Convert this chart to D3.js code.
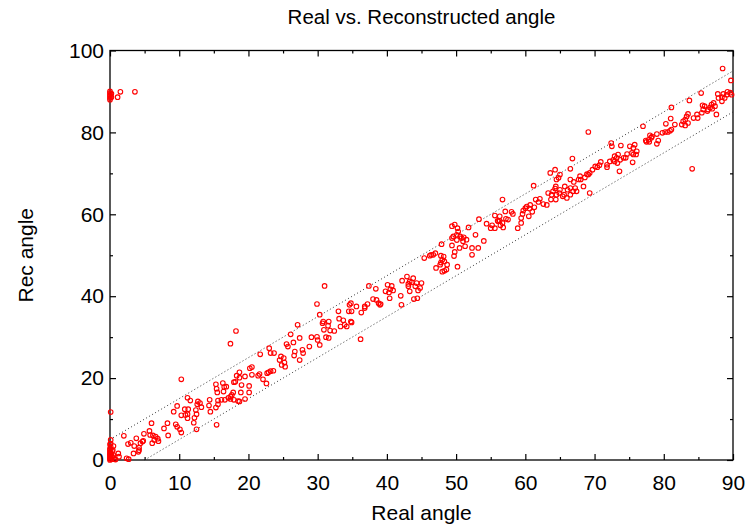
<!DOCTYPE html>
<html><head><meta charset="utf-8">
<script src="https://cdn.jsdelivr.net/npm/d3@7"></script>
<style>
body{margin:0;background:#fff}
svg{display:block}
text{font-family:"Liberation Sans",Arial,Helvetica,sans-serif;fill:#000}
</style>
</head><body>
<svg id="chart" width="752" height="527"></svg>
<script>
// ---------------- data ----------------
const title = "Real vs. Reconstructed angle";
const xLabel = "Real angle";
const yLabel = "Rec angle";
const xTicks = [0,10,20,30,40,50,60,70,80,90];
const xMinorTicks = [5,15,25,35,45,55,65,75,85];
const yTicks = [0,20,40,60,80,100];
const yMinorTicks = [10,30,50,70,90];
const guideOffsets = [5,-5];   // dotted guide lines: rec = real ± 5

const points = [
// top-left cluster
[0,90],[0,89.6],[0,89.2],[0,88.8],[0,88.4],[0,88.0],[0.2,89.5],[0.2,88.6],[1.1,88.6],[1.5,89.9],[3.6,89.9],
// origin cluster
[0,0],[0,0.3],[0,0.6],[0,1],[0,1.3],[0,1.6],[0,2],[0,2.4],[0,2.8],[0.2,0.2],[0.3,0.8],[0.2,1.5],[0.4,0.5],[0.1,3.2],[0,3.8],[0.6,0.2],[0.8,0.1],[0.3,2.2],[0.5,1.2],[0.1,4.0],[0.1,11.7],[0.1,4.9],
// 0-15
[10.3,19.7],[11.2,15.2],[11.6,14.5],[12.7,14.3],[13.0,13.9],[12.6,13.6],[14.4,14.7],[14.3,13.3],[9.7,13.2],[9.2,11.8],[10.8,12.4],[11.3,12.4],[11.2,11.2],[10.9,11.0],[12.4,12.2],[12.5,11.2],[13.2,12.9],[10.3,10.9],[11.2,10.2],[12.2,10.3],[14.5,11.8],[6.0,9.0],[8.3,9.0],[7.8,7.7],[9.5,8.7],[9.7,8.1],[10.1,7.5],[10.3,6.7],[12.1,9.1],[12.5,7.5],[4.9,6.4],[5.7,7.1],[5.8,6.1],[6.2,6.0],[6.4,4.9],[6.6,5.7],[6.9,5.2],[7.0,4.6],[8.4,6.0],[3.8,5.3],[4.4,4.1],[4.7,4.5],[4.8,4.7],[6.1,4.1],[2.0,5.9],[2.6,3.9],[3.0,4.2],[3.5,3.4],[4.2,3.0],[4.2,2.4],[4.1,2.0],[3.4,1.6],[0.5,3.4],[0.4,2.4],[1.2,1.6],[1.3,0.8],[2.4,0.4],[2.7,0.2],[15.4,8.6],
// 15-29
[27.1,33.0],[18.2,31.5],[17.4,28.4],[26.1,30.7],[27.4,29.8],[25.5,28.3],[25.7,27.7],[26.5,28.7],[27.8,26.9],[27.9,26.1],[26.7,26.5],[26.6,25.5],[28.8,27.7],[27.4,24.4],[23.0,27.3],[23.2,26.1],[23.7,26.1],[21.7,25.8],[24.7,25.3],[24.5,24.4],[25.1,24.9],[25.2,23.8],[24.8,23.2],[25.3,22.8],[23.6,21.8],[22.7,21.2],[22.9,21.4],[23.2,21.7],[21.6,21.0],[21.4,20.6],[22.1,19.7],[22.6,18.7],[20.5,22.7],[20.2,22.4],[20.5,20.8],[19.5,20.4],[18.7,21.4],[18.3,20.6],[18.7,20.1],[18.1,19.1],[17.9,19.0],[19.0,18.3],[20.1,18.1],[18.9,16.5],[20.1,16.5],[17.8,16.5],[17.6,15.9],[17.4,15.5],[17.1,15.2],[17.4,14.9],[18.5,14.4],[17.9,14.7],[18.7,14.3],[19.5,14.9],[15.3,18.5],[15.4,17.4],[15.5,16.5],[16.3,18.8],[16.5,17.8],[16.8,17.9],[16.4,16.7],[16.1,14.7],[16.6,14.7],[15.6,14.5],[15.6,13.6],[15.3,12.8],
// 29-45
[45.4,49.3],[31.0,42.5],[37.4,42.5],[38.4,41.8],[40.1,42.8],[40.7,42.5],[40.5,41.7],[40.9,41.4],[40.3,40.9],[39.8,41.2],[40.4,39.5],[42.2,43.8],[42.9,44.8],[43.3,43.6],[43.1,43.0],[43.6,43.4],[43.8,44.4],[43.1,42.4],[43.3,41.2],[44.3,43.2],[45.0,43.2],[44.8,42.0],[44.1,42.4],[44.5,41.4],[43.9,39.3],[44.4,39.5],[42.0,40.1],[42.1,37.9],[38.5,39.1],[38.8,38.3],[39.0,37.9],[39.1,38.1],[38.0,39.3],[37.2,38.1],[36.8,37.5],[36.8,37.1],[36.3,36.0],[34.8,38.3],[34.6,37.9],[34.5,36.3],[34.9,36.3],[35.6,37.5],[33.0,36.3],[33.1,34.5],[33.7,34.1],[33.9,33.0],[33.3,32.6],[34.2,32.6],[34.8,33.8],[34.9,33.6],[31.6,33.8],[31.5,32.8],[30.8,33.8],[30.7,33.4],[30.9,31.8],[31.8,31.6],[32.4,31.5],[30.3,35.5],[29.9,38.1],[31.2,30.0],[31.6,29.8],[30.0,29.3],[29.9,30.1],[29.1,30.0],[30.3,28.1],[36.2,29.5],
// 45-59
[56.7,63.6],[57.1,60.7],[58.0,60.6],[58.2,60.1],[55.6,59.7],[56.3,59.5],[56.0,58.4],[56.3,58.4],[57.2,58.9],[57.5,58.7],[55.2,57.3],[55.0,56.6],[55.6,56.6],[56.4,57.3],[56.7,57.9],[56.8,56.8],[56.1,58.3],[54.4,57.7],[53.3,58.8],[51.8,56.8],[52.8,55.0],[54.0,53.5],[58.9,56.6],[49.4,57.1],[49.8,57.5],[50.2,56.6],[50.3,55.8],[50.1,55.0],[49.6,54.6],[49.4,54.2],[50.6,54.6],[50.8,54.2],[51.1,54.4],[51.5,53.8],[51.0,53.4],[50.1,53.7],[49.4,52.4],[50.5,51.8],[51.3,52.2],[52.3,51.8],[53.2,51.8],[49.8,50.8],[49.7,49.8],[52.3,50.1],[50.2,47.2],[47.9,52.7],[46.4,50.1],[47.0,50.5],[46.7,50.1],[46.2,49.9],[47.8,49.9],[48.2,49.7],[48.0,48.9],[48.3,48.5],[47.8,48.2],[47.7,47.7],[48.7,47.7],[48.6,46.5],[47.1,46.9],[48.0,46.0],[48.3,46.2],
// 59-76
[69.1,80.1],[72.4,77.4],[72.5,76.6],[73.8,76.8],[75.1,76.6],[75.6,76.2],[75.4,75.0],[74.7,74.7],[75.6,74.6],[72.9,74.2],[73.2,73.8],[73.4,74.6],[72.7,73.3],[72.9,72.9],[73.7,73.3],[73.3,72.5],[72.2,72.9],[71.8,72.1],[71.8,71.5],[73.6,70.5],[74.2,73.8],[74.5,73.8],[70.9,72.8],[70.7,72.0],[70.4,71.5],[70.1,71.7],[69.7,70.9],[69.3,70.1],[69.1,69.7],[68.9,69.8],[68.6,69.0],[67.9,69.3],[67.7,68.5],[68.0,68.5],[68.4,66.8],[67.2,66.4],[67.4,65.6],[66.9,65.6],[66.5,66.4],[67.0,67.9],[66.5,68.5],[66.8,73.6],[66.5,71.1],[63.6,70.1],[64.3,70.9],[65.0,69.7],[64.8,68.9],[64.5,68.5],[64.4,66.8],[64.3,66.3],[64.0,65.6],[63.8,64.8],[63.3,65.2],[64.5,64.8],[64.9,65.2],[65.0,66.0],[65.7,66.8],[66.1,66.0],[65.6,64.8],[66.5,64.8],[66.0,64.0],[65.4,64.4],[61.2,67.0],[69.3,65.2],[62.1,63.8],[61.5,63.6],[61.9,63.0],[62.6,62.5],[63.1,62.3],[63.7,63.6],[64.4,63.6],[60.7,62.3],[60.2,61.9],[60.0,61.5],[59.7,60.9],[59.6,60.1],[60.6,61.4],[61.0,60.6],[60.5,59.5],[61.3,61.7],[59.4,59.1],[59.4,57.9],
// 76-90
[88.5,95.6],[89.7,92.7],[89.2,89.9],[89.6,89.7],[89.8,89.2],[89.1,89.2],[88.6,89.4],[88.4,88.6],[88.8,88.4],[87.8,89.4],[87.9,88.4],[88.4,87.6],[85.4,89.6],[87.2,87.2],[86.9,86.8],[87.4,86.4],[86.7,86.1],[86.4,85.6],[87.0,85.8],[85.9,86.4],[85.6,86.6],[85.7,85.6],[86.3,85.2],[85.5,84.8],[87.6,84.4],[83.7,87.8],[81.1,86.1],[84.8,84.4],[84.9,83.5],[84.3,83.5],[83.5,84.5],[83.3,83.9],[83.1,83.1],[82.8,82.7],[83.5,82.3],[82.6,81.9],[83.1,81.7],[81.6,81.9],[81.0,83.4],[81.1,80.7],[80.9,80.4],[80.6,80.1],[80.3,82.1],[77.0,81.5],[79.0,79.6],[78.3,79.0],[78.2,78.7],[78.0,79.3],[77.8,78.2],[77.4,78.0],[77.5,77.7],[77.9,77.7],[79.2,78.0],[79.0,77.2],[79.8,79.9],[80.2,80.1],[75.8,77.0],[76.1,75.4],[76.0,74.6],[75.5,72.7],[84.1,71.1]
];
const realAngle = points.map(d => d[0]);
const recAngle = points.map(d => d[1]);

// ---------------- drawing ----------------
const svg = d3.select("#chart");
const L = 110, R = 733, T = 50.5, B = 460;
const x = d3.scaleLinear().domain([0, 90]).range([L, R]);
const y = d3.scaleLinear().domain([0, 100]).range([B, T]);

const tickFont = 21;

function styleAxis(g) {
  g.select(".domain").remove();
  g.selectAll(".tick line").attr("stroke", "#000").attr("stroke-width", 1.2);
  g.selectAll(".tick text").attr("font-size", tickFont).attr("fill", "#000")
    .attr("font-family", '"Liberation Sans",Arial,sans-serif');
}

// bottom
svg.append("g").attr("transform", `translate(0,${B})`)
  .call(d3.axisBottom(x).tickValues(xTicks).tickSize(-6).tickSizeOuter(0).tickPadding(15).tickFormat(d3.format("d")))
  .call(styleAxis);
svg.append("g").attr("transform", `translate(0,${B})`)
  .call(d3.axisBottom(x).tickValues(xMinorTicks).tickSize(-3).tickSizeOuter(0).tickFormat(""))
  .call(styleAxis);
// top
svg.append("g").attr("transform", `translate(0,${T})`)
  .call(d3.axisTop(x).tickValues(xTicks).tickSize(-6).tickSizeOuter(0).tickFormat(""))
  .call(styleAxis);
svg.append("g").attr("transform", `translate(0,${T})`)
  .call(d3.axisTop(x).tickValues(xMinorTicks).tickSize(-3).tickSizeOuter(0).tickFormat(""))
  .call(styleAxis);
// left
svg.append("g").attr("transform", `translate(${L},0)`)
  .call(d3.axisLeft(y).tickValues(yTicks).tickSize(-6).tickSizeOuter(0).tickPadding(6).tickFormat(d3.format("d")))
  .call(styleAxis);
svg.append("g").attr("transform", `translate(${L},0)`)
  .call(d3.axisLeft(y).tickValues(yMinorTicks).tickSize(-3).tickSizeOuter(0).tickFormat(""))
  .call(styleAxis);
// right
svg.append("g").attr("transform", `translate(${R},0)`)
  .call(d3.axisRight(y).tickValues(yTicks).tickSize(-6).tickSizeOuter(0).tickFormat(""))
  .call(styleAxis);
svg.append("g").attr("transform", `translate(${R},0)`)
  .call(d3.axisRight(y).tickValues(yMinorTicks).tickSize(-3).tickSizeOuter(0).tickFormat(""))
  .call(styleAxis);

// frame
svg.append("rect").attr("x", L).attr("y", T).attr("width", R - L).attr("height", B - T)
  .attr("fill", "none").attr("stroke", "#000").attr("stroke-width", 1.3);

// guide lines
const xd = x.domain(), yd = y.domain();
const line = d3.line().x(d => x(d[0])).y(d => y(d[1]));
guideOffsets.forEach(off => {
  const x0 = Math.max(xd[0], yd[0] - off), x1 = Math.min(xd[1], yd[1] - off);
  svg.append("path").attr("d", line([[x0, x0 + off], [x1, x1 + off]]))
    .attr("fill", "none").attr("stroke", "#333").attr("stroke-width", 1)
    .attr("stroke-dasharray", "1,2.5");
});

// points
svg.append("g").selectAll("circle").data(realAngle.map((v, i) => [v, recAngle[i]]))
  .join("circle")
  .attr("cx", d => x(d[0])).attr("cy", d => y(d[1])).attr("r", 2.3)
  .attr("fill", "none").attr("stroke", "#ff0000").attr("stroke-width", 1.1);

// titles
svg.append("text").attr("x", (L + R) / 2).attr("y", 24).attr("text-anchor", "middle")
  .attr("font-size", 20.5).text(title);
svg.append("text").attr("x", (L + R) / 2).attr("y", 520).attr("text-anchor", "middle")
  .attr("font-size", 21).text(xLabel);
svg.append("text").attr("transform", `translate(33,${(T + B) / 2}) rotate(-90)`).attr("text-anchor", "middle")
  .attr("font-size", 21).text(yLabel);
</script>
</body></html>
